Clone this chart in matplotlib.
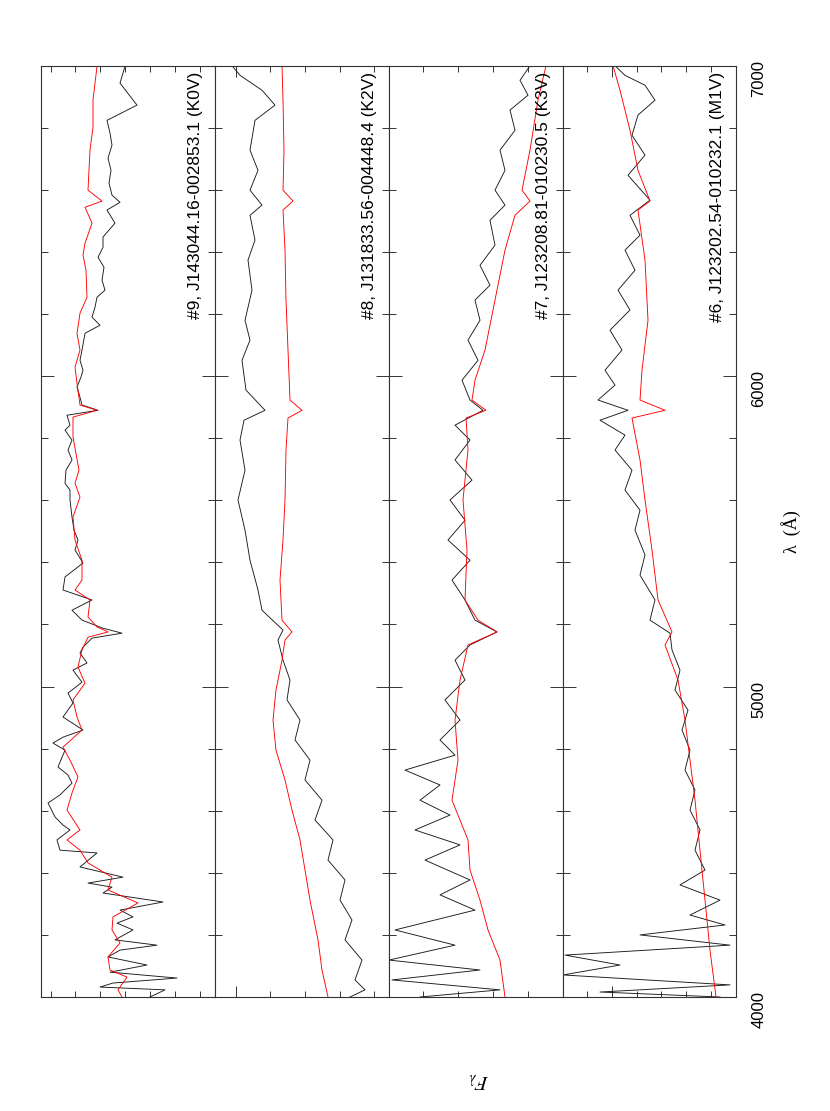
import matplotlib
matplotlib.use('Agg')
import matplotlib.pyplot as plt
from matplotlib.ticker import MultipleLocator, FixedLocator

plt.rcParams['font.family'] = ['Liberation Sans', 'DejaVu Sans']
plt.rcParams['mathtext.fontset'] = 'stix'

# comprimento de onda (Angstrom) e fluxo relativo (unidades arbitrarias)
# objeto observado (preto) e espectro padrao (vermelho) de cada painel

# painel #9 (K0V)
wl_9_obs = [4000, 4023, 4032, 4045, 4061, 4080, 4103, 4129, 4151, 4167,
            4184, 4216, 4238, 4258, 4280, 4306, 4335, 4354, 4367, 4386,
            4419, 4464, 4473, 4506, 4538, 4554, 4580, 4625, 4651, 4689,
            4715, 4741, 4795, 4818, 4837, 4860, 4902, 4947, 4979, 5014,
            5053, 5076, 5108, 5127, 5156, 5172, 5188, 5214, 5246, 5279,
            5311, 5353, 5398, 5440, 5472, 5504, 5546, 5601, 5633, 5655,
            5697, 5730, 5762, 5794, 5826, 5842, 5874, 5890, 5907, 5932,
            5965, 5997, 6019, 6051, 6084, 6138, 6164, 6190, 6222, 6254,
            6277, 6309, 6351, 6383, 6415, 6448, 6493, 6535, 6560, 6583,
            6622, 6663, 6702, 6744, 6783, 6824, 6873, 6944, 6998]
fx_9_obs = [6.45, 4.95, 11.45, 10.15, 3.75, 10.45, 6.75, 10.65, 9.45, 5.75,
            9.95, 8.15, 9.75, 8.15, 9.45, 5.15, 11.15, 10.25, 12.65, 9.15,
            13.45, 11.75, 15.45, 15.75, 14.45, 15.15, 15.95, 16.65, 15.45, 14.25,
            14.65, 15.65, 14.95, 16.15, 15.15, 13.15, 15.15, 14.15, 14.65, 13.25,
            14.15, 12.75, 13.45, 13.15, 12.25, 9.25, 11.15, 13.25, 14.25, 12.25,
            15.15, 14.95, 13.15, 13.95, 13.65, 14.05, 14.25, 14.45, 14.45, 14.95,
            14.85, 14.25, 14.65, 14.25, 14.95, 14.45, 14.75, 11.65, 13.25, 13.45,
            13.75, 13.35, 13.15, 13.45, 13.25, 12.95, 11.45, 12.25, 11.95, 11.75,
            10.95, 11.25, 11.05, 11.65, 11.15, 11.15, 9.95, 10.75, 9.45, 10.25,
            10.55, 10.35, 10.65, 10.25, 10.45, 10.75, 7.75, 9.45, 8.95]
wl_9_tpl = [4000, 4023, 4064, 4087, 4129, 4174, 4216, 4258, 4303, 4345,
            4386, 4432, 4473, 4506, 4538, 4602, 4657, 4709, 4763, 4805,
            4860, 4902, 4957, 5011, 5063, 5118, 5159, 5176, 5192, 5224,
            5279, 5311, 5343, 5407, 5472, 5546, 5610, 5655, 5697, 5804,
            5868, 5890, 5907, 5977, 6029, 6084, 6138, 6203, 6254, 6341,
            6390, 6428, 6493, 6544, 6564, 6599, 6728, 6802, 6889, 6998]
fx_9_tpl = [9.25, 9.65, 8.75, 10.45, 10.65, 9.45, 10.25, 10.15, 7.65, 10.65,
            10.25, 12.65, 13.45, 14.75, 13.45, 14.75, 14.25, 13.65, 14.45, 15.15,
            13.25, 13.75, 14.15, 12.95, 13.65, 13.25, 12.65, 10.65, 11.75, 12.65,
            12.45, 13.95, 13.25, 13.25, 13.95, 14.15, 13.45, 13.95, 13.55, 14.15,
            14.15, 11.75, 13.45, 13.75, 13.95, 13.45, 13.75, 13.45, 12.75, 12.85,
            13.15, 12.95, 12.25, 12.95, 11.25, 12.65, 12.45, 12.15, 12.15, 11.75]

# painel #8 (K2V)
wl_8_obs = [4000, 4023, 4055, 4119, 4184, 4248, 4312, 4377, 4441, 4506,
            4570, 4634, 4699, 4763, 4828, 4892, 4957, 5021, 5085, 5150,
            5182, 5246, 5311, 5407, 5504, 5601, 5697, 5794, 5858, 5890,
            5955, 6051, 6116, 6180, 6277, 6374, 6438, 6518, 6551, 6599,
            6663, 6728, 6824, 6873, 6921, 6969, 7000]
fx_8_obs = [3.88, 2.38, 3.38, 2.68, 4.38, 3.68, 4.88, 4.38, 6.08, 5.58,
            7.38, 6.68, 8.38, 7.88, 9.38, 8.88, 10.18, 9.88, 10.58, 11.08,
            10.58, 12.68, 13.08, 13.88, 14.38, 15.08, 14.38, 14.88, 14.48, 12.38,
            14.28, 14.68, 13.88, 14.38, 13.68, 14.08, 13.38, 13.88, 12.68, 13.88,
            13.08, 13.88, 13.38, 11.38, 12.68, 14.88, 15.68]
wl_8_tpl = [4000, 4087, 4184, 4312, 4409, 4506, 4602, 4699, 4795, 4892,
            4989, 5085, 5150, 5176, 5214, 5343, 5472, 5601, 5762, 5865,
            5890, 5923, 6084, 6245, 6406, 6535, 6564, 6599, 6728, 6889,
            7000]
fx_8_tpl = [6.08, 6.68, 7.08, 7.88, 8.38, 8.88, 9.68, 10.38, 11.28, 11.58,
            11.28, 10.68, 10.38, 9.68, 10.68, 10.88, 10.58, 10.38, 10.28, 10.08,
            8.68, 9.88, 10.08, 10.28, 10.38, 10.58, 9.58, 10.58, 10.48, 10.58,
            10.68]

# painel #7 (K3V)
wl_7_obs = [4000, 4023, 4055, 4087, 4119, 4167, 4216, 4280, 4329, 4377,
            4441, 4490, 4538, 4586, 4634, 4683, 4731, 4779, 4828, 4892,
            4957, 5021, 5085, 5134, 5176, 5214, 5279, 5343, 5407, 5472,
            5536, 5601, 5665, 5730, 5794, 5842, 5890, 5923, 5987, 6051,
            6116, 6180, 6245, 6293, 6357, 6422, 6502, 6551, 6599, 6663,
            6728, 6792, 6857, 6905, 6953, 7000]
fx_7_obs = [14.25, 6.25, 17.05, 8.25, 17.35, 10.75, 16.75, 8.75, 12.25, 9.25,
            13.75, 10.25, 14.75, 11.25, 14.25, 12.25, 15.75, 10.75, 12.25, 10.25,
            11.75, 9.75, 10.75, 9.25, 6.55, 8.75, 9.75, 11.05, 9.25, 11.45,
            9.75, 11.25, 9.05, 10.75, 9.25, 10.75, 7.95, 9.25, 10.05, 8.45,
            9.45, 8.25, 8.75, 7.25, 8.25, 6.75, 7.25, 5.75, 6.75, 5.75,
            6.25, 4.75, 5.25, 3.45, 4.25, 3.25]
wl_7_tpl = [4000, 4119, 4216, 4312, 4409, 4506, 4634, 4763, 4892, 5021,
            5134, 5176, 5214, 5279, 5440, 5601, 5762, 5865, 5890, 5923,
            5987, 6084, 6245, 6406, 6518, 6564, 6599, 6728, 6889, 7000]
fx_7_tpl = [5.75, 6.25, 7.45, 8.25, 9.25, 9.45, 11.05, 10.45, 10.75, 10.25,
            9.45, 6.55, 8.45, 9.75, 9.55, 9.95, 9.45, 9.65, 7.65, 9.05,
            8.75, 7.75, 6.75, 5.75, 4.75, 3.25, 4.05, 3.25, 2.45, 1.65]

# painel #6 (M1V)
wl_6_obs = [4000, 4016, 4039, 4071, 4103, 4135, 4167, 4200, 4232, 4264,
            4312, 4361, 4409, 4473, 4538, 4602, 4667, 4731, 4795, 4860,
            4924, 4989, 5053, 5118, 5172, 5214, 5279, 5359, 5424, 5504,
            5568, 5633, 5697, 5762, 5810, 5858, 5890, 5923, 5971, 6019,
            6084, 6148, 6213, 6277, 6341, 6406, 6454, 6518, 6567, 6647,
            6712, 6776, 6841, 6889, 6937, 6969, 7000]
fx_6_obs = [1.6, 13.6, 0.6, 17.3, 11.6, 17.1, 0.6, 9.6, 1.1, 4.6,
            1.6, 5.6, 3.1, 4.1, 3.6, 4.6, 4.1, 5.1, 4.6, 5.4,
            4.8, 6.1, 5.6, 6.4, 6.6, 8.6, 8.1, 9.6, 9.1, 10.1,
            9.6, 11.1, 10.4, 12.1, 11.1, 13.6, 10.8, 13.8, 12.1, 13.1,
            11.4, 12.6, 10.6, 11.8, 10.1, 11.1, 9.6, 10.6, 8.6, 10.8,
            9.1, 10.4, 9.8, 8.1, 9.1, 11.1, 12.1]
wl_6_tpl = [4000, 4151, 4312, 4473, 4634, 4763, 4892, 5021, 5134, 5176,
            5279, 5440, 5601, 5730, 5865, 5890, 5923, 6019, 6180, 6374,
            6535, 6564, 6663, 6792, 6921, 7000]
fx_6_tpl = [2.0, 2.6, 3.1, 3.6, 4.1, 4.6, 5.1, 5.8, 7.1, 6.4,
            7.8, 8.4, 9.1, 9.6, 10.4, 7.1, 9.6, 9.4, 8.8, 9.1,
            9.8, 8.6, 9.8, 10.6, 11.6, 12.3]

rotulos = ['#9, J143044.16-002853.1 (K0V)',
           '#8, J131833.56-004448.4 (K2V)',
           '#7, J123208.81-010230.5 (K3V)',
           '#6, J123202.54-010232.1 (M1V)']

paineis = [(wl_9_obs, fx_9_obs, wl_9_tpl, fx_9_tpl),
           (wl_8_obs, fx_8_obs, wl_8_tpl, fx_8_tpl),
           (wl_7_obs, fx_7_obs, wl_7_tpl, fx_7_tpl),
           (wl_6_obs, fx_6_obs, wl_6_tpl, fx_6_tpl)]

# marcas do eixo de fluxo (menores, maiores) em cada painel
marcas_fluxo = [([16.38, 13.95, 11.45, 8.95, 6.45, 3.95, 1.45], []),
                ([11.89, 8.35, 4.86, 1.53], [15.33]),
                ([13.95, 10.45, 6.95, 3.45], []),
                ([14.9, 9.9, 7.5, 5.0, 2.5], [12.4])]

W, H = 830, 1111
fig = plt.figure(figsize=(W / 100, H / 100), dpi=100)
bordas = [40.7, 214.5, 388.8, 562.5, 736.0]
topo, base = 65.7, 997.0
cor_eixo = '#333333'

for i, (wo, fo, wt, ft) in enumerate(paineis):
    x0, x1 = bordas[i], bordas[i + 1]
    ax = fig.add_axes([x0 / W, 1 - base / H, (x1 - x0) / W, (base - topo) / H])
    ax.plot(fo, wo, color='#1a1a1a', lw=0.65)
    ax.plot(ft, wt, color='red', lw=0.65)
    ax.set_ylim(4000, 7000)
    ax.set_xlim((x1 - x0) / 10, 0)

    ax.yaxis.set_major_locator(MultipleLocator(1000))
    ax.yaxis.set_minor_locator(MultipleLocator(200))
    menores, maiores = marcas_fluxo[i]
    ax.xaxis.set_major_locator(FixedLocator(maiores))
    ax.xaxis.set_minor_locator(FixedLocator(menores))

    ax.tick_params(which='both', direction='in', top=True, bottom=True,
                   left=True, right=True, labelleft=False, labelbottom=False,
                   color=cor_eixo, width=0.7)
    ax.tick_params(axis='y', which='major', length=9.5)
    ax.tick_params(axis='y', which='minor', length=5)
    ax.tick_params(axis='x', which='major', length=8)
    ax.tick_params(axis='x', which='minor', length=4)
    for s in ax.spines.values():
        s.set_color(cor_eixo)
        s.set_linewidth(0.8)

    if i == 3:
        ax.tick_params(axis='y', which='major', labelright=True,
                       labelrotation=90, labelsize=12, pad=11)

    fig.text((x1 - 19) / W, 1 - 72 / H, rotulos[i], rotation=90,
             ha='center', va='top', fontsize=12.5)

fig.text(791 / W, 1 - 532 / H, 'λ  (Å)', rotation=90, ha='center', va='center',
         fontsize=13, family=['Liberation Serif', 'DejaVu Serif'])
fig.text(478 / W, 1 - 1080 / H, r'$F_\lambda$', rotation=180, ha='center',
         va='center', fontsize=15)

fig.savefig('out.png', dpi=100)
